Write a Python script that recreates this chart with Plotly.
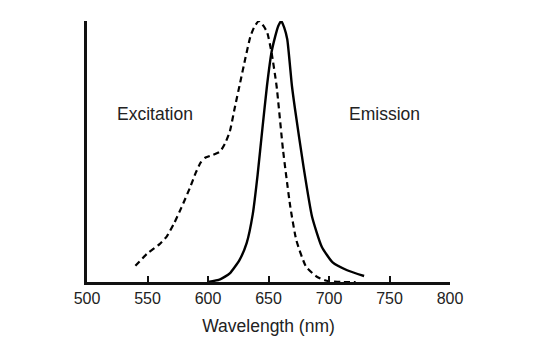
import plotly.graph_objects as go

exc_x = [540, 550, 560, 566, 572, 578, 585, 590, 594, 598, 604, 610, 614, 618, 622, 626.4, 631, 635, 638, 642, 646, 649, 652.6, 656.7, 662, 668, 673, 681, 690, 698, 710, 722]
exc_y = [0.062, 0.11, 0.145, 0.175, 0.225, 0.285, 0.36, 0.42, 0.458, 0.477, 0.487, 0.5, 0.53, 0.576, 0.665, 0.76, 0.86, 0.94, 0.975, 1.0, 0.98, 0.955, 0.877, 0.75, 0.506, 0.289, 0.16, 0.059, 0.02, 0.005, 0.0, 0.0]

em_x = [600, 610, 618, 626, 632, 637, 641, 645, 648.7, 652.5, 655.5, 658, 660.5, 663, 665.5, 669.4, 672, 679, 686, 694, 703, 715, 729]
em_y = [0.0, 0.01, 0.033, 0.084, 0.15, 0.26, 0.41, 0.59, 0.75, 0.88, 0.94, 0.98, 1.0, 0.975, 0.93, 0.75, 0.66, 0.44, 0.25, 0.135, 0.075, 0.045, 0.023]

tick_vals = [500, 550, 600, 650, 700, 750, 800]
labels = {"Excitation": (556, 0.644), "Emission": (746, 0.644)}

fig = go.Figure()
fig.add_trace(go.Scatter(x=exc_x, y=exc_y, mode="lines", line=dict(color="black", width=2.2, dash="6px,4px", shape="spline", smoothing=0.5), showlegend=False))
fig.add_trace(go.Scatter(x=em_x, y=em_y, mode="lines", line=dict(color="black", width=2.4, shape="spline", smoothing=0.5), showlegend=False))

for t, (xx, yy) in labels.items():
    fig.add_annotation(x=xx, y=yy, text=t, showarrow=False, font=dict(size=17.5, color="#222", family="Liberation Sans, Arial"))

fig.update_layout(
    width=536, height=357,
    margin=dict(l=79, r=94, t=13, b=83),
    plot_bgcolor="white", paper_bgcolor="white",
    font=dict(family="Liberation Sans, Arial", size=16, color="#222"),
    xaxis=dict(range=[500, 800], tickvals=tick_vals, showline=True, linecolor="#111", linewidth=3,
               ticks="inside", ticklen=6, tickwidth=2, tickcolor="#111", showgrid=False, zeroline=False,
               title=dict(text="Wavelength (nm)", standoff=14, font=dict(size=17.5, family="Liberation Sans, Arial", color="#222")),
               tickfont=dict(size=16)),
    yaxis=dict(range=[0, 1.0], showline=True, linecolor="#111", linewidth=3, showticklabels=False,
               ticks="", showgrid=False, zeroline=False),
)
fig.write_html("out.html")
